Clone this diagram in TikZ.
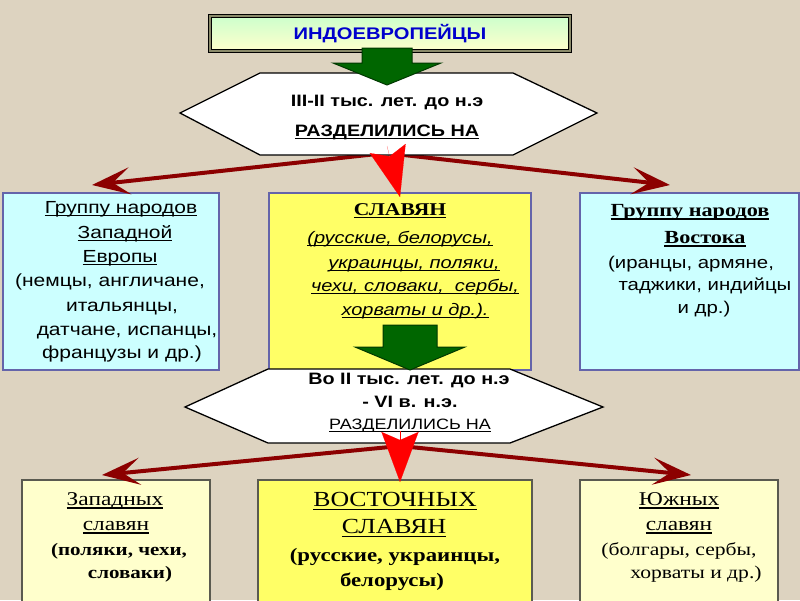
\documentclass[tikz,border=0pt]{standalone}
\usepackage{fontspec}
\setmainfont{Liberation Serif}[FakeStretch=1.2]
\newfontfamily\arl{Liberation Sans}[FakeStretch=1.2]
\usetikzlibrary{arrows.meta}
\definecolor{bgc}{RGB}{221,211,192}
\definecolor{cyanl}{RGB}{204,255,255}
\definecolor{yel}{RGB}{255,255,102}
\definecolor{yell}{RGB}{255,255,204}
\definecolor{bord}{RGB}{100,100,170}
\definecolor{bordy}{RGB}{90,90,80}
\definecolor{dgreen}{RGB}{0,102,0}
\definecolor{dredc}{RGB}{140,0,0}
\definecolor{brred}{RGB}{255,0,0}
\definecolor{ttl}{RGB}{0,0,204}
\definecolor{olv}{RGB}{138,138,106}
\newcommand\myfs[1]{\fontsize{#1}{#1}\selectfont}
\newlength\myulw
\newcommand\myul[1]{\settowidth{\myulw}{#1}\rlap{\rule[-0.16em]{\myulw}{0.07em}}#1}
\tikzset{
  box/.style={draw=bord, line width=1.2pt, anchor=north west, inner sep=0pt, outer sep=0pt},
  boxy/.style={draw=bordy, line width=1.2pt, anchor=north west, inner sep=0pt, outer sep=0pt},
  hexs/.style={draw=black, fill=white, line width=1.3pt, line join=miter},
  garrow/.style={fill=dgreen, draw=dgreen!55!black, line width=1pt},
  dred/.style={draw=dredc, line width=4pt, -{Stealth[length=38pt,width=27pt,inset=17pt]}},
  bred/.style={draw=brred, line width=0.1pt, -{Stealth[length=50pt,width=37pt,inset=8pt]}},
  tx/.style={inner sep=0pt, text height=0.72em, text depth=0pt, anchor=center},
}
\begin{document}
\begin{tikzpicture}[x=1pt,y=-1pt]
\useasboundingbox (0,0) rectangle (800,600);
\fill[bgc] (0,0) rectangle (800,600);

% boxes
\node[box, fill=cyanl, minimum width=216pt, minimum height=177pt] (we) at (3,193) {};
\node[box, fill=yel, minimum width=262pt, minimum height=177pt] (sl) at (269,193) {};
\node[box, fill=cyanl, minimum width=219pt, minimum height=177pt] (ea) at (580,193) {};
\node[boxy, fill=yell, minimum width=188pt, minimum height=122pt] (bw) at (22,480) {};
\node[boxy, fill=yel, minimum width=274pt, minimum height=122pt] (bc) at (258,480) {};
\node[boxy, fill=yell, minimum width=198pt, minimum height=122pt] (be) at (580,480) {};

% top box
\node[draw=black, line width=1pt, double=olv, double distance=2.5pt,
      top color={rgb,255:red,204;green,255;blue,204}, bottom color={rgb,255:red,255;green,255;blue,204},
      minimum width=360pt, minimum height=35pt, inner sep=0pt] (top) at (390,33.5)
      {\arl\bfseries\myfs{16.8}\color{ttl}ИНДОЕВРОПЕЙЦЫ};

% connector coordinates
\coordinate (o1) at (386,153);
\coordinate (t1l) at (92,185);
\coordinate (t1r) at (670,185);
\coordinate (o2) at (400,446);
\coordinate (t2l) at (102,475);
\coordinate (t2r) at (691,475);
\coordinate (r1s) at (387,146);
\coordinate (r2s) at (400,431);

% dark red connectors
\draw[dred] (o1) -- (t1l);
\draw[dred] (o1) -- (t1r);
\draw[dred] (o2) -- (t2l);
\draw[dred] (o2) -- (t2r);

% hexagons
\draw[hexs] (180,113) -- (260,73) -- (513,73) -- (597,113) -- (513,155) -- (260,155) -- cycle;
\draw[hexs] (185,407) -- (268,369) -- (510,369) -- (603,407) -- (510,443) -- (268,443) -- cycle;

% hexagon texts
\node[tx] (h1a) at (387,103) {\arl\bfseries\myfs{16.5}III-II тыс. лет. до н.э};
\node[tx] (h1b) at (387,133) {\arl\bfseries\myfs{16.5}\myul{РАЗДЕЛИЛИСЬ НА}};
\node[tx] (h2a) at (409,381) {\arl\bfseries\myfs{16.5}Во II тыс. лет. до н.э};
\node[tx] (h2b) at (410,404) {\arl\bfseries\myfs{16.5}- VI в. н.э.};
\node[tx] (h2c) at (410,426) {\arl\myfs{15}\myul{РАЗДЕЛИЛИСЬ НА}};

% left box text
\node[tx] (w1) at (121,210) {\arl\myfs{17.5}\myul{Группу народов}};
\node[tx] (w2) at (125,235) {\arl\myfs{17.5}\myul{Западной}};
\node[tx] (w3) at (120,259) {\arl\myfs{17.5}\myul{Европы}};
\node[tx] (w4) at (110,283) {\arl\myfs{17.5}(немцы, англичане,};
\node[tx] (w5) at (122,308) {\arl\myfs{17.5}итальянцы,};
\node[tx] (w6) at (127,332) {\arl\myfs{17.5}датчане, испанцы,};
\node[tx] (w7) at (122,355) {\arl\myfs{17.5}французы и др.)};

% centre box text
\node[tx] (s1) at (400,212) {\bfseries\myfs{18}\myul{СЛАВЯН}};
\node[tx] (s2) at (400,240) {\arl\itshape\myfs{16.7}\myul{(русские, белорусы,}};
\node[tx] (s3) at (414,265) {\arl\itshape\myfs{16.7}\myul{украинцы, поляки,}};
\node[tx] (s4) at (415,288) {\arl\itshape\myfs{16.7}\myul{чехи, словаки,\ \ сербы,}};
\node[tx] (s5) at (415,312) {\arl\itshape\myfs{16.7}\myul{хорваты и др.).}};

% right box text
\node[tx] (e1) at (690,213) {\bfseries\myfs{18.5}\myul{Группу народов}};
\node[tx] (e2) at (705,240) {\bfseries\myfs{18.5}\myul{Востока}};
\node[tx] (e3) at (691,265) {\arl\myfs{17}(иранцы, армяне,};
\node[tx] (e4) at (705,287) {\arl\myfs{17}таджики, индийцы};
\node[tx] (e5) at (704,310) {\arl\myfs{17}и др.)};

% bottom boxes text
\node[tx] (bw1) at (115,502) {\myfs{19.5}\myul{Западных}};
\node[tx] (bw2) at (116,527) {\myfs{19.5}\myul{славян}};
\node[tx] (bw3) at (119,552) {\bfseries\myfs{17.5}(поляки, чехи,};
\node[tx] (bw4) at (130,575) {\bfseries\myfs{17.5}словаки)};
\node[tx] (bc1) at (395,503) {\myfs{21.5}\myul{ВОСТОЧНЫХ}};
\node[tx] (bc2) at (394,530) {\myfs{21.5}\myul{СЛАВЯН}};
\node[tx] (bc3) at (395,558) {\bfseries\myfs{19}(русские, украинцы,};
\node[tx] (bc4) at (392,583) {\bfseries\myfs{19}белорусы)};
\node[tx] (be1) at (679,502) {\myfs{19.5}\myul{Южных}};
\node[tx] (be2) at (679,527) {\myfs{19.5}\myul{славян}};
\node[tx] (be3) at (679,552) {\myfs{18}(болгары, сербы,};
\node[tx] (be4) at (696,575) {\myfs{18}хорваты и др.)};

% green block arrows
\coordinate (g1) at (387,85);
\draw[garrow] (g1) -- ++(-54,-22) -- ++(29,0) -- ++(0,-15) -- ++(50,0) -- ++(0,15) -- ++(29,0) -- cycle;
\coordinate (g2) at (410,370);
\draw[garrow] (g2) -- ++(-55,-23) -- ++(28,0) -- ++(0,-22) -- ++(54,0) -- ++(0,22) -- ++(28,0) -- cycle;

% bright red connectors
\draw[bred] (r1s) -- ([yshift=-4pt]sl.north);
\draw[bred] (r2s) -- ([xshift=5pt,yshift=-2pt]bc.north);
\end{tikzpicture}
\end{document}
